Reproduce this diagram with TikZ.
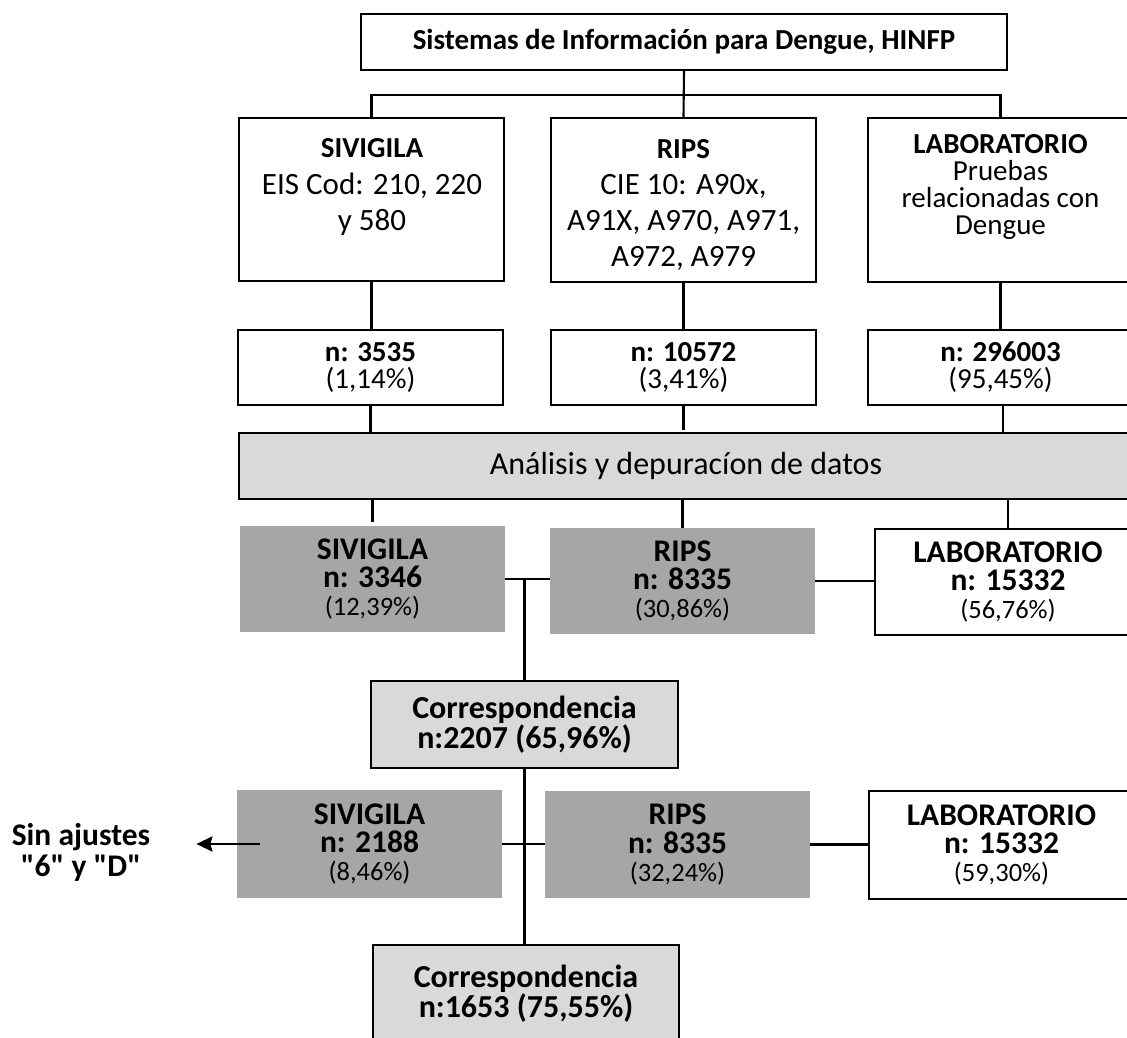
\documentclass[tikz,border=0pt]{standalone}
\usepackage{fontspec}
\setmainfont{Carlito}
\usetikzlibrary{arrows.meta}
\definecolor{lgray}{HTML}{D9D9D9}
\definecolor{dgray}{HTML}{A6A6A6}
\font\sinq="Carlito/B" at 31.5pt
\begin{document}
\begin{tikzpicture}[x=1pt,y=-1pt,
  box/.style={draw, line width=2.4pt, inner sep=0pt, align=center},
  wbox/.style={box, fill=white},
  lbox/.style={box, fill=lgray},
  gbox/.style={inner sep=0pt, fill=dgray, align=center},
  txt/.style={inner sep=0pt, align=center},
  conn/.style={line width=2.1pt},
  ]
\useasboundingbox (0,0) rectangle (1127,1038);
\fill[white] (0,0) rectangle (1127,1038);

% top
\node[wbox, minimum width=646, minimum height=56, font=\fontsize{29}{35}\selectfont\bfseries] (top) at (684,42) {Sistemas de Información para Dengue, HINFP};

% row 1
\node[wbox, minimum width=265, minimum height=163] (siv1) at (371.5,199.5) {};
\node[txt, font=\fontsize{31}{36.3}\selectfont] (siv1t) at (372,187) {{\fontsize{29}{36.3}\selectfont\bfseries SIVIGILA}\\EIS Cod: 210, 220\\y 580};
\node[wbox, minimum width=265, minimum height=164] (rips1) at (683.5,200) {};
\node[txt, font=\fontsize{31}{35.9}\selectfont] (rips1t) at (683.5,205) {{\fontsize{29}{35.9}\selectfont\bfseries RIPS}\\CIE 10: A90x,\\A91X, A970, A971,\\A972, A979};
\node[wbox, minimum width=265, minimum height=164] (lab1) at (1000.5,200) {};
\node[txt, font=\fontsize{29}{27}\selectfont] (lab1t) at (1000.5,186.5) {\textbf{LABORATORIO}\\Pruebas\\relacionadas con\\Dengue};

% n boxes
\node[wbox, minimum width=265, minimum height=75, font=\fontsize{29}{27}\selectfont] (n1) at (370.5,367.5) {\textbf{n: 3535}\\(1,14\%)};
\node[wbox, minimum width=265, minimum height=75, font=\fontsize{29}{27}\selectfont] (n2) at (683.5,367.5) {\textbf{n: 10572}\\(3,41\%)};
\node[wbox, minimum width=265, minimum height=75, font=\fontsize{29}{27}\selectfont] (n3) at (1000.5,367.5) {\textbf{n: 296003}\\(95,45\%)};

% analysis
\node[lbox, minimum width=894, minimum height=66, font=\fontsize{32}{38}\selectfont] (ana) at (686,466) {Análisis y depuracíon de datos};

% gray row 1
\node[gbox, minimum width=265, minimum height=106, font=\fontsize{31.5}{28}\selectfont\bfseries] (sivg) at (372.5,579) {SIVIGILA\\n: 3346\\{\fontsize{26.5}{28}\selectfont\mdseries (12,39\%)}};
\node[gbox, minimum width=265, minimum height=106, font=\fontsize{31.5}{28}\selectfont\bfseries] (ripsg) at (682.5,581) {RIPS\\n: 8335\\{\fontsize{26.5}{28}\selectfont\mdseries (30,86\%)}};
\node[wbox, minimum width=266, minimum height=106, font=\fontsize{31.5}{28}\selectfont\bfseries] (labw) at (1008,582) {LABORATORIO\\n: 15332\\{\fontsize{26.5}{28}\selectfont\mdseries (56,76\%)}};

% correspondencia 1
\node[lbox, minimum width=307, minimum height=87, font=\fontsize{32}{28}\selectfont\bfseries] (corr1) at (524.5,724.5) {Correspondencia\\n:2207 (65,96\%)};

% row 3
\node[gbox, minimum width=265, minimum height=108, font=\fontsize{31.5}{28}\selectfont\bfseries] (sivg2) at (369.5,844) {SIVIGILA\\n: 2188\\{\fontsize{26.5}{28}\selectfont\mdseries (8,46\%)}};
\node[gbox, minimum width=265, minimum height=107, font=\fontsize{31.5}{28}\selectfont\bfseries] (ripsg2) at (677.5,844.5) {RIPS\\n: 8335\\{\fontsize{26.5}{28}\selectfont\mdseries (32,24\%)}};
\node[wbox, minimum width=265, minimum height=108, font=\fontsize{31.5}{28}\selectfont\bfseries] (labw2) at (1001.5,845) {LABORATORIO\\n: 15332\\{\fontsize{26.5}{28}\selectfont\mdseries (59,30\%)}};

% correspondencia 2
\node[lbox, minimum width=306, minimum height=98, font=\fontsize{32}{28}\selectfont\bfseries] (corr2) at (526,994) {Correspondencia\\n:1653 (75,55\%)};

% side label
\node[txt, font=\fontsize{31.5}{31}\selectfont\bfseries] (sin) at (81,852) {Sin ajustes\\{\sinq "6" y "D"}};

% connectors
\coordinate (j) at (683,95);
\draw[conn] (top.south) -- (rips1.north);
\draw[conn] (siv1.north) -- (siv1.north |- j) -- (lab1.north |- j) -- (lab1.north);
\draw[conn] (siv1.south) -- (siv1.south |- n1.north);
\draw[conn] (rips1.south) -- (rips1.south |- n2.north);
\draw[conn] (lab1.south) -- (lab1.south |- n3.north);
\draw[conn] (n1.south) -- (n1.south |- ana.north);
\draw[conn, shorten >=2pt] (n2.south) -- (n2.south |- ana.north);
\draw[conn] ([xshift=2.5pt]n3.south) -- ([xshift=2.5pt]n3.south |- ana.north);
\draw[conn, shorten >=4pt] (sivg.north |- ana.south) -- (sivg.north);
\draw[conn] (ripsg.north |- ana.south) -- (ripsg.north);
\draw[conn] (labw.north |- ana.south) -- (labw.north);
\draw[conn] (sivg.east) -- (sivg.east -| ripsg.west);
\draw[conn] (corr1.north) -- (corr1.north |- sivg.east);
\draw[conn] (ripsg.east) -- (ripsg.east -| labw.west);
\draw[conn] (corr1.south) -- (corr1.south |- corr2.north);
\draw[conn] (sivg2.east) -- (sivg2.east -| ripsg2.west);
\draw[conn] (ripsg2.east) -- (ripsg2.east -| labw2.west);
\draw[line width=2.7pt, shorten >=23pt, -{Stealth[length=16pt,width=15pt,inset=2pt]}] ([xshift=23pt]sivg2.west) -- ([xshift=23pt]sivg2.west -| sin.east);
\end{tikzpicture}
\end{document}
